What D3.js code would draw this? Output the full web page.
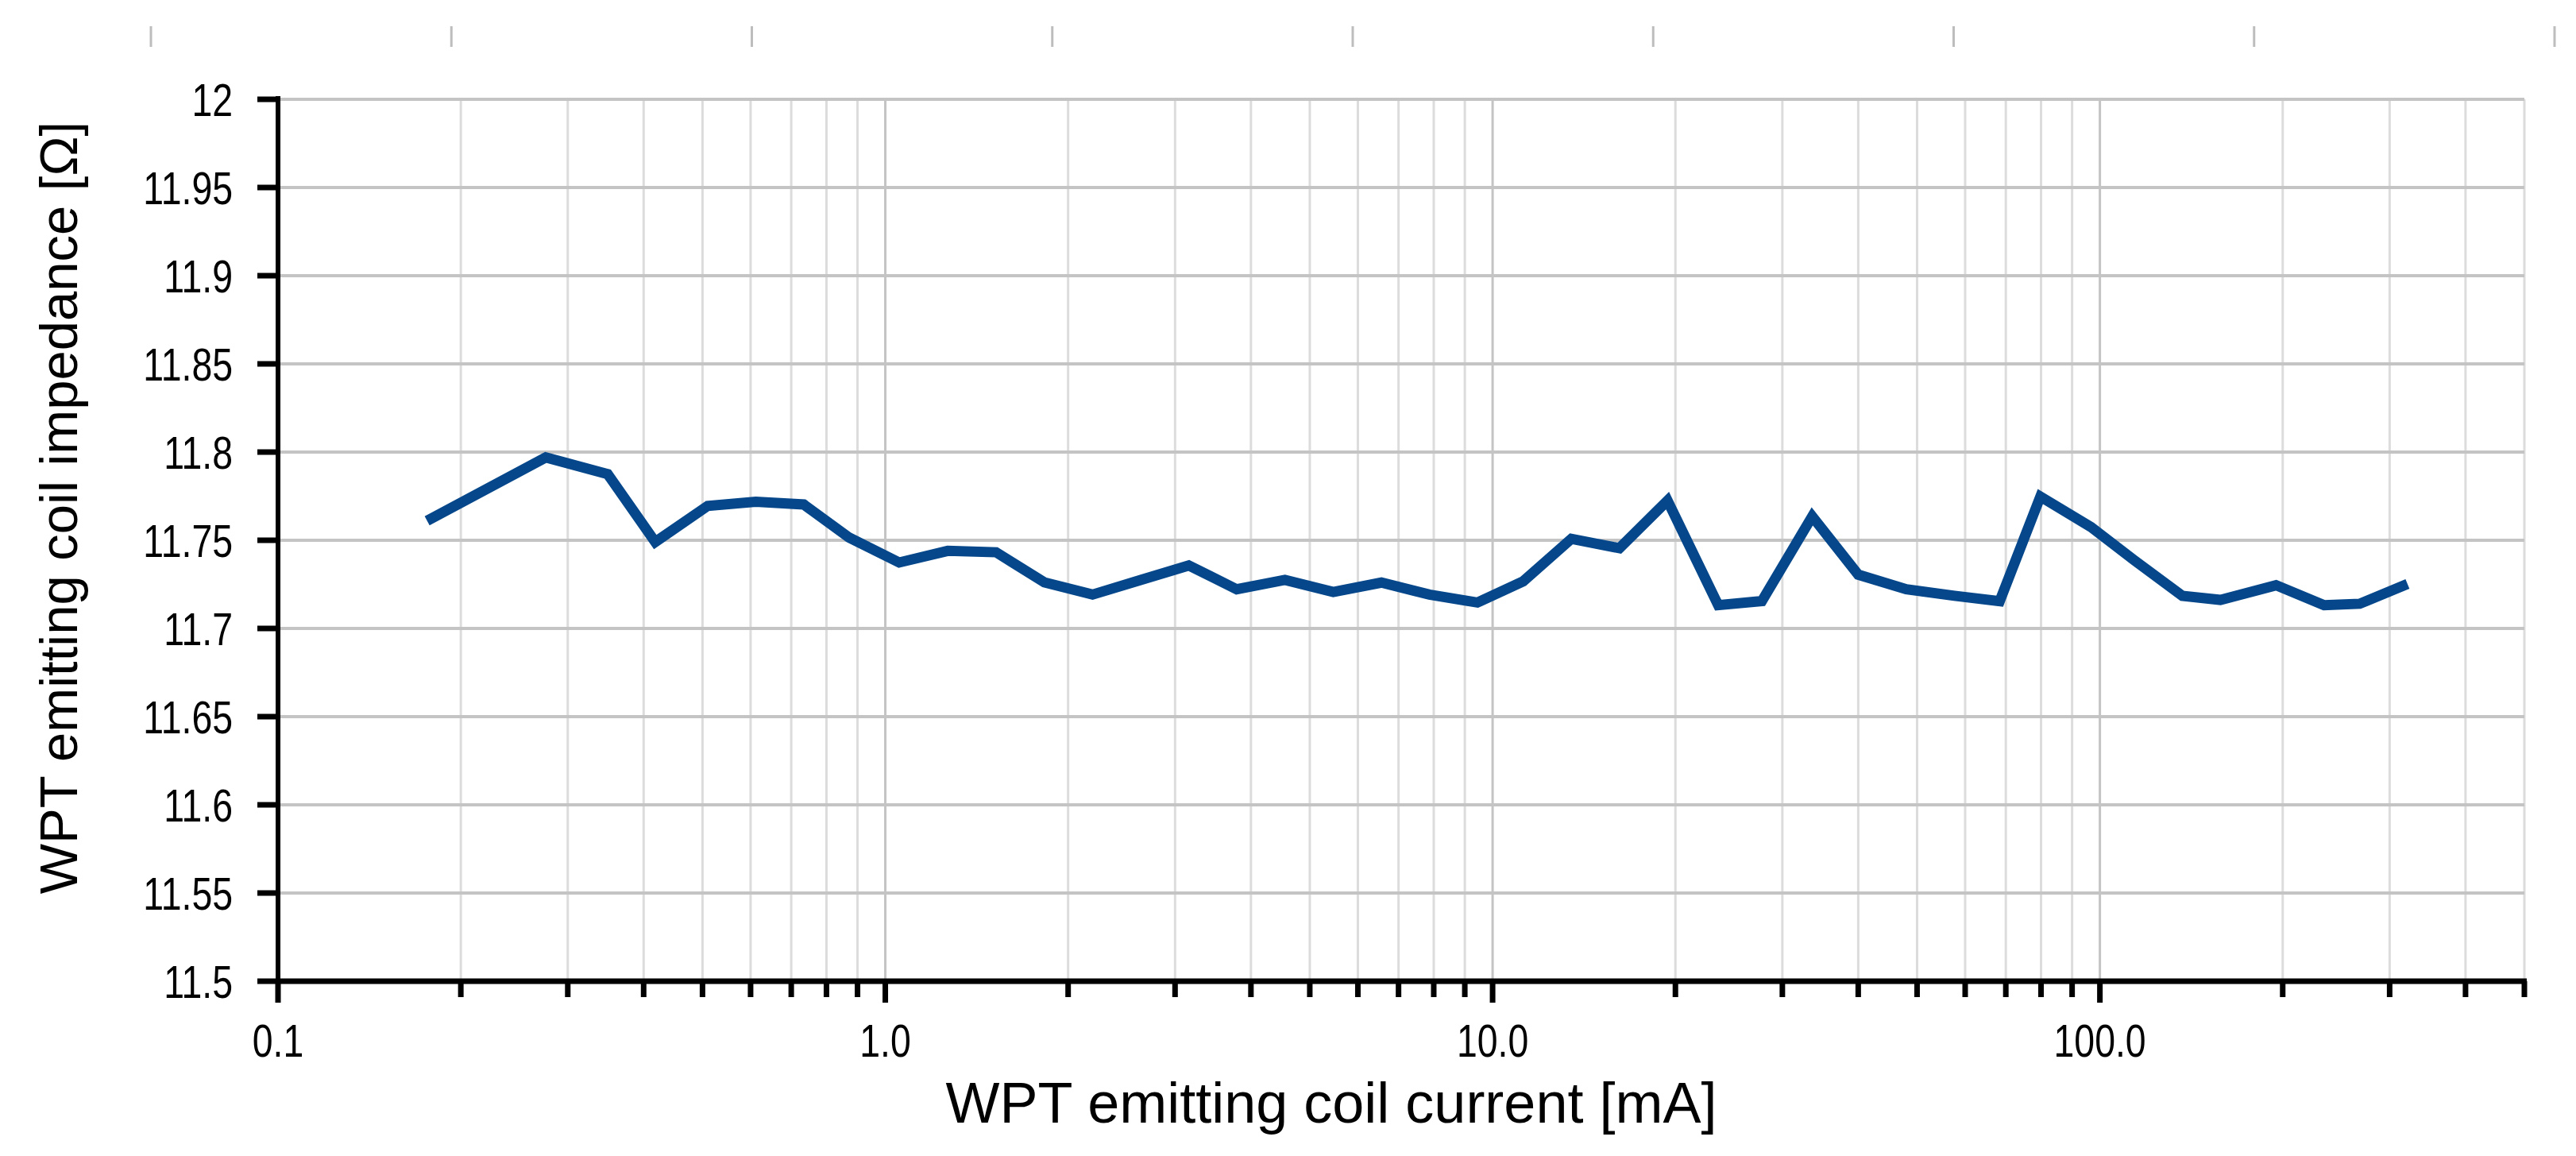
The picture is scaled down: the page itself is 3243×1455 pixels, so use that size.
<!DOCTYPE html>
<html>
<head>
<meta charset="utf-8">
<script src="https://cdn.jsdelivr.net/npm/d3@7"></script>
<style>
  html, body { margin: 0; padding: 0; background: #ffffff; }
  svg { display: block; }
</style>
</head>
<body>
<script>
// ---- data ----
const currentMA = [0.176, 0.276, 0.349, 0.418, 0.510, 0.612, 0.734, 0.872, 1.054, 1.267,
  1.522, 1.828, 2.194, 2.633, 3.16, 3.79, 4.55, 5.465, 6.56, 7.87,
  9.44, 11.23, 13.48, 16.18, 19.41, 23.52, 27.76, 33.6, 40.0, 48.0,
  57.6, 68.4, 79.8, 96.7, 113.9, 136.7, 157.9, 195, 234, 267.8, 321];
const impedanceOhm = [11.761, 11.797, 11.7875, 11.749, 11.7695, 11.7718, 11.7703, 11.7515, 11.7374, 11.744,
  11.7432, 11.7261, 11.7192, 11.7275, 11.7357, 11.7222, 11.7275, 11.7207, 11.726, 11.7192,
  11.7147, 11.7267, 11.7508, 11.7455, 11.7725, 11.7132, 11.7155, 11.7635, 11.7305, 11.7222,
  11.7185, 11.7155, 11.7748, 11.7575, 11.7387, 11.7185, 11.7162, 11.7245, 11.7132, 11.714, 11.7252];
const xMajorTicks = [0.1, 1, 10, 100];
const xTickLabels = ["0.1", "1.0", "10.0", "100.0"];
const yTicks = [11.5, 11.55, 11.6, 11.65, 11.7, 11.75, 11.8, 11.85, 11.9, 11.95, 12];
const yTickLabels = ["11.5", "11.55", "11.6", "11.65", "11.7", "11.75", "11.8", "11.85", "11.9", "11.95", "12"];
const xTitle = "WPT emitting coil current [mA]";
const yTitle = "WPT emitting coil impedance [Ω]";

// ---- layout ----
const W = 3243, H = 1455;
const pL = 350, pR = 3178, pT = 125, pB = 1235;
const font = "'Liberation Sans', Arial, sans-serif";
const squeeze = 0.8;

const svg = d3.select("body").append("svg").attr("width", W).attr("height", H);

const x = d3.scaleLog().domain([0.1, 500]).range([pL, pR]);
const y = d3.scaleLinear().domain([11.5, 12]).range([pB, pT]);

// decorative ruler marks at the top
const ruler = d3.scaleLinear().domain([0, 8]).range([190, 3216]);
svg.append("g").selectAll("line").data(d3.range(9)).join("line")
  .attr("x1", d => ruler(d)).attr("x2", d => ruler(d))
  .attr("y1", 33).attr("y2", 59)
  .attr("stroke", "#bdbdbd").attr("stroke-width", 3);

// vertical gridlines (minor + major)
const allX = x.ticks();
svg.append("g").selectAll("line").data(allX).join("line")
  .attr("x1", d => x(d)).attr("x2", d => x(d))
  .attr("y1", pT).attr("y2", pB)
  .attr("stroke", d => xMajorTicks.includes(d) ? "#c4c4c4" : "#dcdcdc")
  .attr("stroke-width", 3);

// horizontal gridlines
svg.append("g").selectAll("line").data(yTicks).join("line")
  .attr("x1", pL).attr("x2", pR)
  .attr("y1", d => y(d)).attr("y2", d => y(d))
  .attr("stroke", "#c4c4c4").attr("stroke-width", 4);

// data line
const line = d3.line().x((d, i) => x(currentMA[i])).y(d => y(d));
svg.append("path").datum(impedanceOhm)
  .attr("d", line)
  .attr("fill", "none")
  .attr("stroke", "#05478a")
  .attr("stroke-width", 13)
  .attr("stroke-linejoin", "miter")
  .attr("stroke-linecap", "butt");

// y axis
svg.append("line").attr("x1", pL).attr("x2", pL).attr("y1", pT - 4).attr("y2", pB + 4)
  .attr("stroke", "#000").attr("stroke-width", 6);
svg.append("g").selectAll("line").data(yTicks).join("line")
  .attr("x1", pL - 26).attr("x2", pL)
  .attr("y1", d => y(d)).attr("y2", d => y(d))
  .attr("stroke", "#000").attr("stroke-width", 7);
svg.append("g").selectAll("text").data(yTicks).join("text")
  .attr("transform", d => `translate(293,${y(d)}) scale(${squeeze},1)`)
  .attr("dy", "0.36em")
  .attr("text-anchor", "end")
  .attr("font-family", font).attr("font-size", 58)
  .attr("fill", "#000")
  .text((d, i) => yTickLabels[i]);

// x axis
svg.append("line").attr("x1", pL - 3).attr("x2", pR + 3).attr("y1", pB).attr("y2", pB)
  .attr("stroke", "#000").attr("stroke-width", 7);
svg.append("g").selectAll("line").data(allX).join("line")
  .attr("x1", d => x(d)).attr("x2", d => x(d))
  .attr("y1", pB)
  .attr("y2", d => xMajorTicks.includes(d) ? pB + 27 : pB + 20)
  .attr("stroke", "#000").attr("stroke-width", 7);
svg.append("g").selectAll("text").data(xMajorTicks).join("text")
  .attr("transform", d => `translate(${x(d)},1330) scale(${squeeze},1)`)
  .attr("text-anchor", "middle")
  .attr("font-family", font).attr("font-size", 58)
  .attr("fill", "#000")
  .text((d, i) => xTickLabels[i]);

// axis titles
svg.append("text")
  .attr("x", 1676).attr("y", 1413)
  .attr("text-anchor", "middle")
  .attr("font-family", font).attr("font-size", 72)
  .attr("fill", "#000")
  .text(xTitle);
svg.append("text")
  .attr("transform", "translate(97,639) rotate(-90)")
  .attr("text-anchor", "middle")
  .attr("font-family", font).attr("font-size", 67)
  .attr("fill", "#000")
  .text(yTitle);
</script>
</body>
</html>
